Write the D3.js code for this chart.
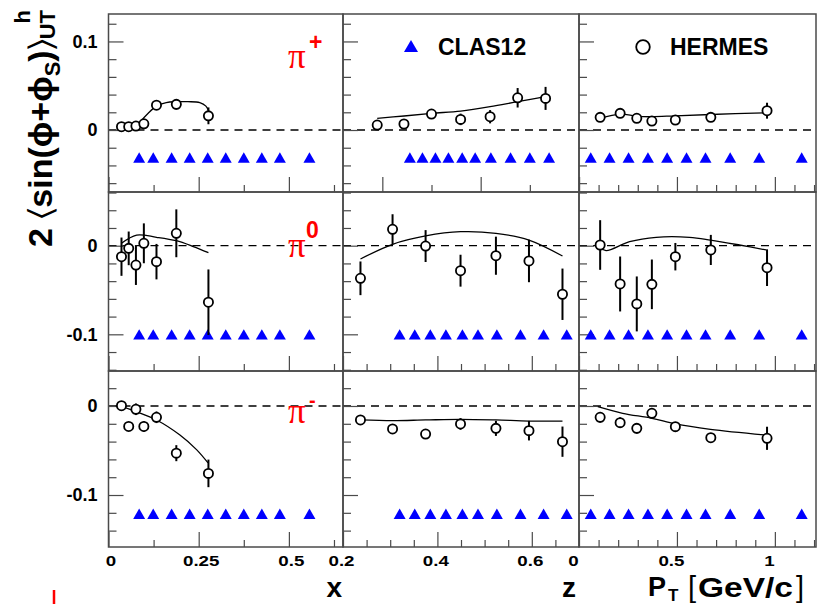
<!DOCTYPE html>
<html>
<head>
<meta charset="utf-8">
<script src="https://cdn.jsdelivr.net/npm/d3@7"></script>
<style>
  body { margin: 0; background: #fff; }
  svg { display: block; }
</style>
</head>
<body>
<svg id="chart" width="821" height="604"></svg>
<script>
// ---- HERMES kinematic bins ----
const hermesX  = [0.036, 0.056, 0.076, 0.098, 0.133, 0.188, 0.277];
const hermesZ  = [0.237, 0.305, 0.375, 0.449, 0.524, 0.594, 0.665];
const hermesPT = [0.108, 0.210, 0.295, 0.372, 0.492, 0.673, 0.960];

// ---- CLAS12 projected bins (shown at a fixed level per pion) ----
const clasX  = [0.085, 0.124, 0.175, 0.225, 0.275, 0.325, 0.375, 0.425, 0.475, 0.557];
const clasZ  = [0.320, 0.352, 0.385, 0.418, 0.453, 0.486, 0.526, 0.576, 0.625, 0.674];
const clasPT = [0.060, 0.156, 0.253, 0.352, 0.450, 0.549, 0.646, 0.772, 0.920, 1.137];
const clasLevel = [-0.033, -0.102, -0.123];

// ---- pi+ asymmetries ----
const piPlusX     = [0.0037, 0.0037, 0.0045, 0.007, 0.028, 0.029, 0.016];
const piPlusXErr  = [0.003, 0.003, 0.003, 0.0035, 0.005, 0.006, 0.0095];
const piPlusZ     = [0.0056, 0.0068, 0.018, 0.012, 0.015, 0.0364, 0.0357];
const piPlusZErr  = [0.003, 0.003, 0.004, 0.0065, 0.0075, 0.011, 0.013];
const piPlusPT    = [0.0143, 0.0188, 0.0132, 0.0101, 0.0113, 0.0143, 0.0218];
const piPlusPTErr = [0.003, 0.004, 0.003, 0.003, 0.003, 0.004, 0.009];

// ---- pi0 asymmetries ----
const piZeroX     = [-0.0124, -0.003, -0.0218, 0.0027, -0.018, 0.014, -0.0638];
const piZeroXErr  = [0.0216, 0.019, 0.0225, 0.0225, 0.02, 0.027, 0.037];
const piZeroZ     = [-0.0368, 0.0185, -0.0004, -0.0282, -0.0113, -0.0172, -0.0548];
const piZeroZErr  = [0.019, 0.017, 0.018, 0.018, 0.0215, 0.024, 0.029];
const piZeroPT    = [0.0008, -0.0432, -0.0657, -0.0436, -0.0124, -0.0048, -0.0248];
const piZeroPTErr = [0.028, 0.031, 0.031, 0.028, 0.0155, 0.017, 0.0207];

// ---- pi- asymmetries ----
const piMinusX     = [0.0003, -0.023, -0.0037, -0.023, -0.0127, -0.053, -0.0757];
const piMinusXErr  = [0.004, 0.005, 0.0065, 0.006, 0.0065, 0.009, 0.0155];
const piMinusZ     = [-0.0157, -0.0258, -0.0315, -0.0202, -0.0251, -0.0277, -0.0401];
const piMinusZErr  = [0.003, 0.004, 0.005, 0.0065, 0.0085, 0.011, 0.017];
const piMinusPT    = [-0.0127, -0.0187, -0.0251, -0.0082, -0.0232, -0.0356, -0.0363];
const piMinusPTErr = [0.006, 0.006, 0.006, 0.006, 0.005, 0.005, 0.013];

// ---- model curves: [kinematic value, asymmetry] ----
const curvePiPlusX   = [[0.08,0.004],[0.09,0.010],[0.11,0.019],[0.133,0.027],[0.16,0.031],[0.188,0.032],[0.22,0.032],[0.253,0.031],[0.27,0.027],[0.277,0.022]];
const curvePiPlusZ   = [[0.237,0.0132],[0.305,0.0158],[0.375,0.0188],[0.449,0.0214],[0.524,0.0263],[0.594,0.032],[0.665,0.0376]];
const curvePiPlusPT  = [[0.108,0.013],[0.21,0.018],[0.295,0.0155],[0.372,0.015],[0.492,0.016],[0.673,0.0175],[0.96,0.0195]];
const curvePiZeroX   = [[0.036,0.0027],[0.078,0.012],[0.133,0.0095],[0.188,0.0056],[0.235,-0.001],[0.277,-0.0079]];
const curvePiZeroZ   = [[0.237,-0.015],[0.305,0.0016],[0.375,0.011],[0.449,0.0158],[0.524,0.014],[0.594,0.0064],[0.665,-0.0116]];
const curvePiZeroPT  = [[0.108,-0.002],[0.138,-0.0056],[0.258,0.0045],[0.394,0.0095],[0.564,0.0095],[0.671,0.0064],[0.819,0.0008],[0.955,-0.0048]];
const curvePiMinusX  = [[0.02,0.0],[0.036,-0.0008],[0.076,-0.0064],[0.133,-0.0157],[0.198,-0.0326],[0.244,-0.049],[0.276,-0.064]];
const curvePiMinusZ  = [[0.237,-0.0157],[0.305,-0.0165],[0.375,-0.0157],[0.449,-0.015],[0.524,-0.0157],[0.594,-0.0169],[0.665,-0.0169]];
const curvePiMinusPT = [[0.096,-0.0008],[0.223,-0.0082],[0.372,-0.0138],[0.492,-0.0202],[0.671,-0.0262],[0.955,-0.0326]];

// ---- axis labels ----
const chargeLabels = ["+", "0", "-"];
const xTickLabels = [[0, 0.25, 0.5], [0.2, 0.4, 0.6], [0, 0.5, 1]];

// ---- layout ----
const colEdges = [108.5, 343, 579, 816];
const rowEdges = [14, 192, 371, 547];
const xDomains = [[0, 0.65], [0.2, 0.7], [0, 1.21]];
const zDomainTopRow = [0.15, 0.75];
const yDomains = [[-0.07, 0.131], [-0.1414, 0.0606], [-0.1584, 0.0393]];
const xMajor = [[0, 0.25, 0.5], [0.2, 0.4, 0.6], [0, 0.5, 1]];
const xMinor = [[0.125, 0.375, 0.625], [0.25, 0.3, 0.35, 0.45, 0.5, 0.55, 0.65],
                [0.1, 0.2, 0.3, 0.4, 0.6, 0.7, 0.8, 0.9, 1.1, 1.2]];
const xMajorTopZ = [0.25, 0.5, 0.75];
const xMinorTopZ = [0.375, 0.625];
const labelShift = [2, -2, -6];

const SANS = "'Liberation Sans', Arial, Helvetica, sans-serif";
const SERIF = "'Liberation Serif', 'Times New Roman', serif";
const FRAME = "#4a4a4a";

const svg = d3.select("#chart");
const hermesBins = [hermesX, hermesZ, hermesPT];
const clasBins = [clasX, clasZ, clasPT];
const values = [[piPlusX, piPlusZ, piPlusPT], [piZeroX, piZeroZ, piZeroPT], [piMinusX, piMinusZ, piMinusPT]];
const errors = [[piPlusXErr, piPlusZErr, piPlusPTErr], [piZeroXErr, piZeroZErr, piZeroPTErr], [piMinusXErr, piMinusZErr, piMinusPTErr]];
const curves = [[curvePiPlusX, curvePiPlusZ, curvePiPlusPT], [curvePiZeroX, curvePiZeroZ, curvePiZeroPT], [curvePiMinusX, curvePiMinusZ, curvePiMinusPT]];

const tri = d3.symbol(d3.symbolTriangle, 62)();
const fmtY = v => (Math.abs(v) < 1e-9 ? "0" : String(+v.toFixed(1)));
const fmtX = v => (Math.abs(v) < 1e-9 ? "0" : String(+v.toFixed(2)));

function styleAxis(sel) {
  sel.select(".domain").remove();
  sel.selectAll(".tick line").attr("stroke", FRAME).attr("stroke-width", 1.2);
  sel.attr("font-family", null).attr("font-size", null);
}

for (let r = 0; r < 3; r++) {
  for (let c = 0; c < 3; c++) {
    const xd = (r === 0 && c === 1) ? zDomainTopRow : xDomains[c];
    const x = d3.scaleLinear().domain(xd).range([colEdges[c], colEdges[c + 1]]);
    const y = d3.scaleLinear().domain(yDomains[r]).range([rowEdges[r + 1], rowEdges[r]]);
    const g = svg.append("g");

    // zero line
    g.append("line")
      .attr("x1", colEdges[c]).attr("x2", colEdges[c + 1])
      .attr("y1", y(0)).attr("y2", y(0))
      .attr("stroke", "#000").attr("stroke-width", 1.3)
      .attr("stroke-dasharray", "8,6");

    // y ticks
    const [y0, y1] = yDomains[r];
    const yMaj = d3.range(-2, 3).map(k => k / 10).filter(v => v > y0 && v < y1);
    const yMin = d3.range(-10, 11).filter(k => k % 5 !== 0).map(k => k / 50).filter(v => v > y0 && v < y1);
    const yAxMaj = g.append("g").attr("transform", `translate(${colEdges[c]},0)`)
      .call(d3.axisLeft(y).tickValues(yMaj).tickSizeInner(-15).tickSizeOuter(0).tickPadding(11)
        .tickFormat(c === 0 ? fmtY : () => ""));
    styleAxis(yAxMaj);
    yAxMaj.selectAll("text").style("font", `bold 18px ${SANS}`).attr("fill", "#000");
    const yAxMin = g.append("g").attr("transform", `translate(${colEdges[c]},0)`)
      .call(d3.axisLeft(y).tickValues(yMin).tickSizeInner(-8).tickSizeOuter(0).tickFormat(() => ""));
    styleAxis(yAxMin);

    // x ticks
    const xMaj = (r === 0 && c === 1) ? xMajorTopZ : xMajor[c];
    const xMin = (r === 0 && c === 1) ? xMinorTopZ : xMinor[c];
    const xAxMaj = g.append("g").attr("transform", `translate(0,${rowEdges[r + 1]})`)
      .call(d3.axisBottom(x).tickValues(xMaj).tickSizeInner(-15).tickSizeOuter(0).tickPadding(8)
        .tickFormat(r === 2 ? (v => (xTickLabels[c].includes(v) ? fmtX(v) : "")) : () => ""));
    styleAxis(xAxMaj);
    xAxMaj.selectAll("text")
      .style("font", `bold 15px ${SANS}`).attr("fill", "#000")
      .attr("transform", `translate(${labelShift[c]},0) scale(1.25,1)`);
    const xAxMin = g.append("g").attr("transform", `translate(0,${rowEdges[r + 1]})`)
      .call(d3.axisBottom(x).tickValues(xMin).tickSizeInner(-7).tickSizeOuter(0).tickFormat(() => ""));
    styleAxis(xAxMin);

    // CLAS12 projected points
    g.selectAll("path.clas").data(clasBins[c]).join("path")
      .attr("class", "clas")
      .attr("d", tri)
      .attr("transform", d => `translate(${x(d)},${y(clasLevel[r])})`)
      .attr("fill", "#0000ff");

    // model curve
    g.append("path")
      .datum(curves[r][c])
      .attr("d", d3.line().x(d => x(d[0])).y(d => y(d[1])).curve(d3.curveCatmullRom))
      .attr("fill", "none").attr("stroke", "#000").attr("stroke-width", 1.3);

    // HERMES points with error bars
    const pts = hermesBins[c].map((k, i) => ({ k, v: values[r][c][i], e: errors[r][c][i] }));
    g.selectAll("line.err").data(pts).join("line")
      .attr("class", "err")
      .attr("x1", d => x(d.k)).attr("x2", d => x(d.k))
      .attr("y1", d => y(d.v - d.e)).attr("y2", d => y(d.v + d.e))
      .attr("stroke", "#000").attr("stroke-width", 2);
    g.selectAll("circle.pt").data(pts).join("circle")
      .attr("class", "pt")
      .attr("cx", d => x(d.k)).attr("cy", d => y(d.v)).attr("r", 4.6)
      .attr("fill", "#fff").attr("stroke", "#000").attr("stroke-width", 1.8);

    // frame
    g.append("rect")
      .attr("x", colEdges[c]).attr("y", rowEdges[r])
      .attr("width", colEdges[c + 1] - colEdges[c]).attr("height", rowEdges[r + 1] - rowEdges[r])
      .attr("fill", "none").attr("stroke", FRAME).attr("stroke-width", 1.5);
  }
}

// pion labels
const piBase = [68, 257, 423];
const supBase = [50, 238, 407];
const supX = [309, 306, 309];
chargeLabels.forEach((q, r) => {
  svg.append("text").attr("x", 288).attr("y", piBase[r])
    .style("font", `35px ${SERIF}`).attr("fill", "#ff0000").text("\u03C0");
  svg.append("text").attr("x", supX[r]).attr("y", supBase[r])
    .style("font", `bold ${q === "-" ? 20 : 23}px ${SANS}`).attr("fill", "#ff0000").text(q);
});

// legend
svg.append("path").attr("d", d3.symbol(d3.symbolTriangle, 85)())
  .attr("transform", "translate(411,48)").attr("fill", "#0000ff");
svg.append("text").attr("x", 438).attr("y", 55)
  .style("font", `bold 23px ${SANS}`).attr("fill", "#000").text("CLAS12");
svg.append("circle").attr("cx", 643).attr("cy", 47).attr("r", 6.8)
  .attr("fill", "#fff").attr("stroke", "#000").attr("stroke-width", 1.8);
svg.append("text").attr("x", 670).attr("y", 55)
  .style("font", `bold 23px ${SANS}`).attr("fill", "#000").text("HERMES");

// axis titles
svg.append("text").attr("x", 342).attr("y", 597).attr("text-anchor", "end")
  .style("font", `bold 28px ${SANS}`).attr("fill", "#000").text("x");
svg.append("text").attr("x", 576).attr("y", 597).attr("text-anchor", "end")
  .style("font", `bold 28px ${SANS}`).attr("fill", "#000").text("z");
svg.append("text").attr("x", 648).attr("y", 596)
  .style("font", `bold 27px ${SANS}`).attr("fill", "#000").text("P");
svg.append("text").attr("x", 668).attr("y", 601)
  .style("font", `bold 17px ${SANS}`).attr("fill", "#000").text("T");
svg.append("text").attr("x", 688).attr("y", 597)
  .style("font", `29px ${SANS}`).attr("fill", "#000").text("[");
svg.append("text").attr("x", 698).attr("y", 597).attr("textLength", 95).attr("lengthAdjust", "spacingAndGlyphs")
  .style("font", `bold 28px ${SANS}`).attr("fill", "#000").text("GeV/c");
svg.append("text").attr("x", 796).attr("y", 597)
  .style("font", `29px ${SANS}`).attr("fill", "#000").text("]");

// y-axis title
const yTitle = svg.append("text").attr("transform", "rotate(-90)")
  .attr("x", -247).attr("y", 52)
  .style("font", `bold 34px ${SANS}`).attr("fill", "#000");
const angle = "'DejaVu Sans', sans-serif";
yTitle.append("tspan").text("2 ");
yTitle.append("tspan").style("font-family", angle).style("font-weight", "normal").text("\u2329");
yTitle.append("tspan").text("sin(\u03D5+\u03D5");
yTitle.append("tspan").attr("dy", 8).style("font-size", "22px").text("S");
yTitle.append("tspan").attr("dy", -8).text(")");
yTitle.append("tspan").style("font-family", angle).style("font-weight", "normal").text("\u232A");
yTitle.append("tspan").attr("dy", 3).style("font-size", "22px").text("UT");
const uPos = yTitle.node().getStartPositionOfChar(14);
svg.append("text").attr("transform", "rotate(-90)")
  .attr("x", uPos.x).attr("y", 30)
  .style("font", `bold 22px ${SANS}`).attr("fill", "#000").text("h");

// small red mark at the lower left
svg.append("line").attr("x1", 54).attr("x2", 54).attr("y1", 590).attr("y2", 604)
  .attr("stroke", "#ff0000").attr("stroke-width", 2.5);
</script>
</body>
</html>
